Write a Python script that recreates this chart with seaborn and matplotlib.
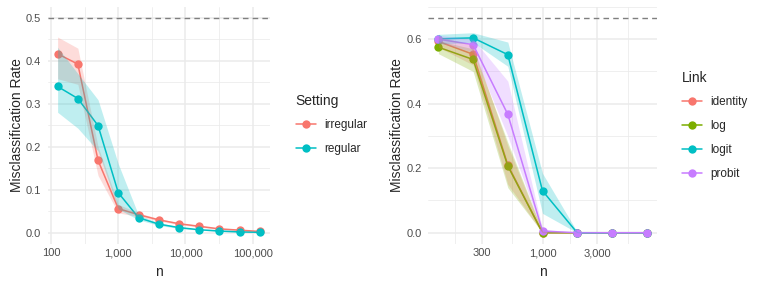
import numpy as np
import pandas as pd
import seaborn as sns
import matplotlib.pyplot as plt
from matplotlib.lines import Line2D
from matplotlib.ticker import FixedLocator, FuncFormatter

# left panel data (Setting)
n_left = [125, 250, 500, 1000, 2000, 4000, 8000, 16000, 32000, 64000, 128000]
irregular = [0.416, 0.392, 0.168, 0.056, 0.042, 0.030, 0.021, 0.015, 0.009, 0.006, 0.003]
irregular_lo = [0.358, 0.345, 0.133, 0.046, 0.038, 0.027, 0.019, 0.013, 0.008, 0.005, 0.002]
irregular_hi = [0.455, 0.429, 0.200, 0.066, 0.046, 0.033, 0.023, 0.017, 0.010, 0.007, 0.004]
regular = [0.340, 0.312, 0.249, 0.093, 0.035, 0.020, 0.012, 0.007, 0.004, 0.002, 0.001]
regular_lo = [0.280, 0.243, 0.190, 0.055, 0.030, 0.017, 0.010, 0.006, 0.003, 0.001, 0.000]
regular_hi = [0.431, 0.370, 0.309, 0.160, 0.041, 0.023, 0.014, 0.008, 0.005, 0.003, 0.002]

# right panel data (Link)
n_right = [125, 250, 500, 1000, 2000, 4000, 8000]
identity = [0.593, 0.553, 0.210, 0.000, 0.000, 0.000, 0.000]
identity_lo = [0.575, 0.520, 0.150, 0.000, 0.000, 0.000, 0.000]
identity_hi = [0.610, 0.580, 0.270, 0.003, 0.000, 0.000, 0.000]
log_ = [0.575, 0.537, 0.207, 0.000, 0.000, 0.000, 0.000]
log_lo = [0.555, 0.500, 0.140, 0.000, 0.000, 0.000, 0.000]
log_hi = [0.595, 0.570, 0.280, 0.005, 0.000, 0.000, 0.000]
logit = [0.601, 0.604, 0.552, 0.130, 0.000, 0.000, 0.000]
logit_lo = [0.585, 0.590, 0.516, 0.060, 0.000, 0.000, 0.000]
logit_hi = [0.615, 0.620, 0.591, 0.184, 0.003, 0.000, 0.000]
probit = [0.600, 0.583, 0.367, 0.005, 0.000, 0.000, 0.000]
probit_lo = [0.590, 0.560, 0.300, 0.000, 0.000, 0.000, 0.000]
probit_hi = [0.612, 0.600, 0.470, 0.012, 0.000, 0.000, 0.000]

sns.set_theme(style="white")
plt.rcParams['font.family'] = ['Liberation Sans', 'DejaVu Sans']

left = pd.DataFrame({
    'n': n_left * 2,
    'rate': irregular + regular,
    'lo': irregular_lo + regular_lo,
    'hi': irregular_hi + regular_hi,
    'Setting': ['irregular'] * len(n_left) + ['regular'] * len(n_left),
})
right = pd.DataFrame({
    'n': n_right * 4,
    'rate': identity + log_ + logit + probit,
    'lo': identity_lo + log_lo + logit_lo + probit_lo,
    'hi': identity_hi + log_hi + logit_hi + probit_hi,
    'Link': ['identity'] * 7 + ['log'] * 7 + ['logit'] * 7 + ['probit'] * 7,
})

pal2 = {'irregular': '#F8766D', 'regular': '#00BFC4'}
pal4 = {'identity': '#F8766D', 'log': '#7CAE00', 'logit': '#00BFC4', 'probit': '#C77CFF'}

fig = plt.figure(figsize=(7.61, 2.86), dpi=100)
ax1 = fig.add_axes([47.5 / 761, 1 - 243.5 / 286, 222.5 / 761, 236.6 / 286])
ax2 = fig.add_axes([428 / 761, 1 - 243.5 / 286, 229 / 761, 236.6 / 286])

comma = FuncFormatter(lambda v, p: '{:,.0f}'.format(v))


def style(ax, xmaj, xmin, ymaj, ymin):
    ax.set_xscale('log')
    ax.xaxis.set_major_locator(FixedLocator(xmaj))
    ax.xaxis.set_minor_locator(FixedLocator(xmin))
    ax.xaxis.set_major_formatter(comma)
    ax.xaxis.set_minor_formatter(FuncFormatter(lambda v, p: ''))
    ax.yaxis.set_major_locator(FixedLocator(ymaj))
    ax.yaxis.set_minor_locator(FixedLocator(ymin))
    ax.yaxis.set_major_formatter(FuncFormatter(lambda v, p: '{:.1f}'.format(v)))
    ax.grid(which='major', color='#EBEBEB', linewidth=1.1)
    ax.grid(which='minor', color='#EBEBEB', linewidth=0.55)
    ax.set_axisbelow(True)
    for s in ax.spines.values():
        s.set_visible(False)
    ax.tick_params(which='both', length=0, labelsize=8, labelcolor='#4D4D4D')
    ax.tick_params(axis='y', pad=4.5)
    ax.tick_params(axis='x', pad=3.5)
    ax.set_xlabel('n', fontsize=10, labelpad=5)
    ax.set_ylabel('Misclassification Rate', fontsize=10, labelpad=1.5)


def panel(ax, df, key, pal, hline):
    ax.axhline(hline, color='#7F7F7F', linestyle=(0, (4, 3)), linewidth=1.0, zorder=1)
    sns.lineplot(data=df, x='n', y='rate', hue=key, palette=pal, marker='o',
                 markersize=6, markeredgewidth=0, linewidth=1.1, ax=ax,
                 legend=False, zorder=2)
    for name, g in df.groupby(key):
        ax.fill_between(g['n'], g['lo'], g['hi'], color=pal[name], alpha=0.25,
                        linewidth=0, zorder=3)
    handles = [Line2D([], [], color=pal[k], marker='o', markersize=6,
                      markeredgewidth=0, linewidth=1.1) for k in pal]
    return handles


h1 = panel(ax1, left, 'Setting', pal2, 0.5)
style(ax1, [100, 1000, 10000, 100000], [316.2, 3162, 31623],
      [0, 0.1, 0.2, 0.3, 0.4, 0.5], [0.05, 0.15, 0.25, 0.35, 0.45])
lx = np.log10(125), np.log10(128000)
pad = (lx[1] - lx[0]) * 0.05
ax1.set_xlim(10 ** (lx[0] - pad), 10 ** (lx[1] + pad))
ax1.set_ylim(-0.025, 0.525)

h2 = panel(ax2, right, 'Link', pal4, 2 / 3)
style(ax2, [300, 1000, 3000], [173.2, 547.7, 1732, 5477],
      [0, 0.2, 0.4, 0.6], [0.1, 0.3, 0.5, 0.7])
rx = np.log10(125), np.log10(8000)
pad = (rx[1] - rx[0]) * 0.05
ax2.set_xlim(10 ** (rx[0] - pad), 10 ** (rx[1] + pad))
ax2.set_ylim(-2 / 3 * 0.05, 2 / 3 * 1.05)

legend_kw = dict(loc='upper left', frameon=False, fontsize=8.5, title_fontsize=10,
                 handlelength=1.7, handletextpad=0.75, labelspacing=1.0,
                 alignment='left')
fig.legend(h1, list(pal2), title='Setting',
           bbox_to_anchor=(285 / 761, 1 - 83 / 286), **legend_kw)
fig.legend(h2, list(pal4), title='Link',
           bbox_to_anchor=(671 / 761, 1 - 60 / 286), **legend_kw)

fig.savefig('out.png', dpi=100)
